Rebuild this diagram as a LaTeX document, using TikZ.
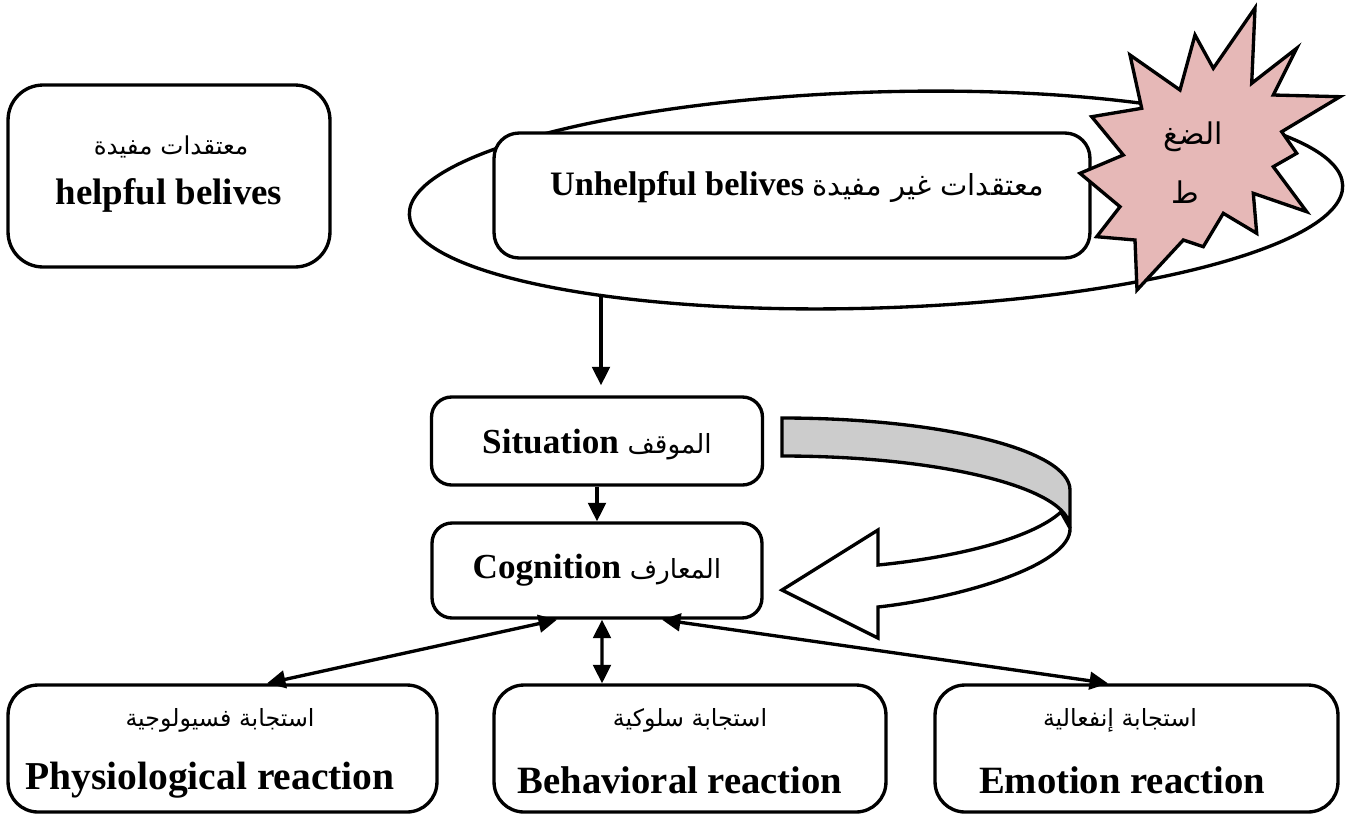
\documentclass[tikz,border=0pt]{standalone}
\usepackage{fontspec}
\setmainfont{Liberation Serif}
\newfontfamily\arabicfont[Script=Arabic]{DejaVu Sans}
\TeXXeTstate=1
\usetikzlibrary{arrows.meta,shapes.geometric}

% Arabic run, set right to left
\newcommand{\artxt}[1]{{\arabicfont\beginR #1\endR}}

\definecolor{stresspink}{HTML}{E6B8B7}
\definecolor{ribbongray}{HTML}{CCCCCC}

\tikzset{
  box/.style={draw, line width=1.9pt, fill=white, inner sep=0pt},
  entxt/.style={inner sep=0pt, font=\bfseries\fontsize{21}{24}\selectfont},
  artx/.style={inner sep=0pt, font=\fontsize{14}{18}\selectfont},
  arr/.style={line width=1.9pt, -{Triangle[length=10.5pt,width=10pt]}},
  darr/.style={line width=1.9pt, {Triangle[length=10.5pt,width=10pt]}-{Triangle[length=10.5pt,width=10pt]}},
  outline/.style={draw, line width=1.9pt, line join=miter}
}

\begin{document}
\begin{tikzpicture}[x=0.02cm, y=-0.02cm]
\useasboundingbox (0,0) rectangle (1346,816);

% belief boxes
\node[box, rounded corners=0.7cm, minimum width=6.44cm, minimum height=3.64cm] (helpful) at (169,176) {};
\node[artx] (helpfulAr) at (171,147) {\artxt{معتقدات مفيدة}};
\node[entxt] (helpfulEn) at (169,195) {helpful belives};

\node[draw, ellipse, line width=1.9pt, minimum width=18.68cm, minimum height=4.32cm, inner sep=0pt, rotate=1.8] (ell) at (876,200) {};

\node[box, rounded corners=0.5cm, minimum width=11.92cm, minimum height=2.5cm] (unhelpful) at (792,195.5) {};
\node[entxt, font=\bfseries\fontsize{19.5}{24}\selectfont] (unhelpfulTx) at (797,187) {Unhelpful belives {\mdseries\fontsize{16.5}{18}\selectfont\artxt{معتقدات غير مفيدة}}};

% stress starburst
\path[outline, fill=stresspink]
  (1255,8) -- (1251.7,83.3) -- (1296.7,48.3) -- (1273.3,95) -- (1340,96.7)
  -- (1281.7,131.7) -- (1296.7,153.3) -- (1273.3,166.7) -- (1306.7,211.7)
  -- (1253.3,193.3) -- (1256.7,233.3) -- (1223.3,213.3) -- (1203.3,246.7)
  -- (1183.3,240) -- (1137,290) -- (1135,240) -- (1096.7,236.7)
  -- (1120,206.7) -- (1080,173.3) -- (1123.3,155) -- (1091.7,116.7)
  -- (1141.7,108.3) -- (1130,55) -- (1180,90) -- (1195,35) -- (1213.3,68.3) -- cycle;
\node[inner sep=0pt, font=\fontsize{17}{18}\selectfont] (stressA) at (1193,137) {\artxt{الضغ}};
\node[inner sep=0pt, font=\fontsize{17}{18}\selectfont] (stressB) at (1185,192) {\artxt{ط}};

% situation and cognition
\node[box, rounded corners=0.4cm, minimum width=6.62cm, minimum height=1.76cm] (sit) at (597,441) {};
\node[entxt, font=\bfseries\fontsize{20}{24}\selectfont] (sitTx) at (597,445) {Situation {\mdseries\fontsize{15}{18}\selectfont\artxt{الموقف}}};
\node[box, rounded corners=0.4cm, minimum width=6.6cm, minimum height=1.9cm] (cog) at (597,570.5) {};
\node[entxt, font=\bfseries\fontsize{20}{24}\selectfont] (cogTx) at (597,570) {Cognition {\mdseries\fontsize{15}{18}\selectfont\artxt{المعارف}}};

% curved feedback arrow: back face, then front face with head
\path[outline, fill=ribbongray]
  (782,418) -- (782,456) .. controls (941,456) and (1070,488) .. (1070,528)
  -- (1070,490) .. controls (1070,450) and (941,418) .. (782,418) -- cycle;
\path[outline, fill=white]
  (1070,528) .. controls (1072,565) and (960,598) .. (878,607)
  -- (878,638) -- (782,590) -- (878,530) -- (878,565)
  .. controls (950,558) and (1030,540) .. (1061,512) -- cycle;

% reaction boxes
\node[box, rounded corners=0.6cm, minimum width=8.58cm, minimum height=2.54cm] (phys) at (222.5,748.5) {};
\node[artx, font=\fontsize{13.5}{18}\selectfont] (physAr) at (220,720) {\artxt{استجابة فسيولوجية}};
\node[entxt, font=\bfseries\fontsize{22.5}{24}\selectfont] (physEn) at (210,780) {Physiological reaction};

\node[box, rounded corners=0.6cm, minimum width=7.84cm, minimum height=2.54cm] (beh) at (690,748.5) {};
\node[artx, font=\fontsize{13.5}{18}\selectfont] (behAr) at (690,720) {\artxt{استجابة سلوكية}};
\node[entxt, font=\bfseries\fontsize{22}{24}\selectfont] (behEn) at (680,780) {Behavioral reaction};

\node[box, rounded corners=0.6cm, minimum width=8.06cm, minimum height=2.54cm] (emo) at (1136.5,748.5) {};
\node[artx, font=\fontsize{13.5}{18}\selectfont] (emoAr) at (1120,720) {\artxt{استجابة إنفعالية}};
\node[entxt, font=\bfseries\fontsize{22}{24}\selectfont] (emoEn) at (1122,780) {Emotion reaction};

% connectors
\coordinate (dtop) at (601,297);
\draw[arr, shorten >=5.7pt] (dtop) -- (dtop |- sit.north);
\draw[arr] (sit.south) -- (cog.north);
\draw[darr] ([xshift=-0.8cm]cog.south) -- ([xshift=0.89cm]phys.north);
\draw[darr] ([xshift=0.1cm]cog.south) -- ([xshift=-1.76cm]beh.north);
\draw[darr] ([xshift=1.3cm]cog.south) -- ([xshift=-0.57cm]emo.north);
\end{tikzpicture}
\end{document}
